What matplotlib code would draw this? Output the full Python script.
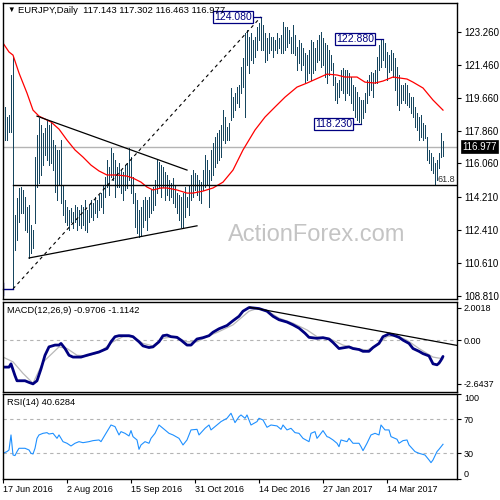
import numpy as np
import matplotlib
matplotlib.use('Agg')
import matplotlib.pyplot as plt

plt.rcParams['font.family'] = ['Liberation Sans', 'DejaVu Sans']

# ---------------- data ----------------
date_labels = ['17 Jun 2016', '2 Aug 2016', '15 Sep 2016', '31 Oct 2016',
               '14 Dec 2016', '27 Jan 2017', '14 Mar 2017']
date_label_idx = [0, 32, 64, 96, 128, 160, 192]

last_ohlc = [117.143, 117.302, 116.463, 116.977]

highs = [
    118.05, 119.15, 118.60, 118.71, 120.90, 121.88, 113.24, 114.17, 114.72, 114.77,
    114.61, 114.22, 113.68, 113.79, 112.69, 112.42, 116.41, 117.62, 118.55, 118.16,
    117.72, 118.00, 118.44, 118.16, 118.33, 117.34, 117.07, 116.80, 116.80, 117.34,
    114.88, 114.06, 113.68, 113.51, 113.62, 113.40, 113.79, 113.68, 113.51, 113.79,
    113.68, 114.06, 113.51, 113.79, 114.06, 113.90, 114.22, 114.06, 114.33, 114.44,
    114.88, 115.32, 116.25, 115.86, 116.90, 116.63, 116.25, 115.86, 116.08, 115.70,
    115.59, 115.97, 116.08, 116.90, 116.41, 115.32, 114.44, 114.06, 113.51, 113.68,
    114.06, 114.22, 114.06, 114.22, 114.61, 114.77, 115.15, 116.25, 116.14, 115.97,
    115.86, 115.59, 115.43, 115.15, 114.99, 115.26, 114.88, 114.44, 114.33, 114.22,
    114.44, 114.77, 114.22, 114.88, 115.43, 115.70, 115.54, 115.43, 115.15, 115.04,
    115.70, 116.52, 116.25, 115.70, 116.80, 117.18, 117.51, 117.72, 117.89, 118.16,
    118.98, 118.60, 118.05, 118.27, 120.19, 119.69, 119.91, 120.24, 120.35, 121.34,
    121.83, 123.19, 123.36, 122.98, 123.19, 122.81, 122.98, 123.52, 123.74, 124.08,
    123.63, 123.19, 122.92, 123.19, 122.98, 122.98, 122.81, 123.19, 122.92, 123.09,
    123.80, 123.52, 123.52, 123.36, 122.98, 123.63, 123.09, 122.43, 122.81, 122.65,
    122.37, 122.10, 121.99, 122.27, 122.81, 122.70, 122.37, 122.81, 123.09, 123.25,
    122.92, 122.65, 122.54, 122.27, 121.99, 121.55, 120.79, 120.46, 120.62, 121.17,
    121.28, 121.17, 121.17, 121.01, 120.79, 120.35, 120.24, 119.97, 119.69, 119.53,
    119.53, 119.91, 120.62, 120.90, 121.06, 121.01, 121.17, 121.88, 122.54, 122.81,
    122.88, 122.65, 122.16, 121.99, 122.27, 122.10, 121.83, 121.34, 120.90, 120.35,
    120.35, 120.46, 120.35, 119.91, 119.69, 119.69, 119.15, 118.82, 118.60, 118.71,
    118.27, 118.16, 117.51, 116.80, 116.63, 116.41, 116.08, 116.25, 116.63, 117.72,
    117.302]

lows = [
    116.90, 117.34, 117.34, 117.78, 117.78, 109.20, 111.33, 111.87, 112.86, 113.35,
    113.35, 112.42, 112.31, 110.89, 111.16, 111.43, 112.80, 114.77, 114.99, 115.43,
    115.97, 116.52, 116.25, 115.97, 116.08, 115.70, 114.50, 114.06, 114.88, 113.90,
    113.24, 112.86, 112.69, 112.42, 112.86, 112.53, 112.86, 112.42, 112.69, 112.53,
    112.69, 112.42, 112.31, 112.86, 113.13, 112.97, 113.35, 113.13, 113.51, 113.68,
    113.35, 114.22, 114.77, 114.33, 115.32, 115.15, 114.22, 114.77, 114.77, 114.44,
    114.06, 114.61, 114.72, 115.15, 114.44, 113.90, 112.58, 112.25, 112.04, 112.09,
    112.58, 112.97, 112.42, 113.13, 113.35, 113.51, 113.79, 114.44, 114.77, 114.22,
    114.77, 114.06, 114.33, 114.06, 114.22, 113.90, 113.68, 113.35, 112.97, 112.58,
    112.53, 113.13, 113.68, 113.24, 114.06, 114.22, 114.61, 114.33, 114.06, 113.90,
    114.61, 114.77, 114.88, 113.68, 115.15, 115.43, 115.86, 116.08, 116.25, 116.41,
    117.34, 117.18, 117.34, 117.34, 118.44, 118.60, 118.98, 119.37, 119.15, 119.91,
    120.24, 118.60, 121.44, 121.01, 121.72, 121.55, 121.88, 122.27, 122.81, 122.27,
    122.27, 121.61, 121.72, 122.10, 122.27, 121.88, 122.27, 122.10, 122.37, 122.10,
    122.10, 122.27, 122.43, 122.65, 122.10, 122.10, 121.99, 121.17, 121.55, 121.17,
    121.44, 120.51, 120.62, 121.01, 120.62, 121.01, 121.17, 121.61, 121.72, 121.34,
    121.44, 120.79, 120.46, 120.90, 121.17, 120.35, 119.53, 119.37, 119.69, 120.08,
    119.91, 119.53, 119.91, 119.80, 119.37, 118.98, 118.60, 118.44, 118.33, 118.23,
    118.55, 118.87, 119.37, 119.80, 120.08, 119.69, 120.46, 120.46, 121.17, 121.34,
    121.72, 121.34, 120.62, 121.06, 121.17, 120.79, 120.08, 119.26, 118.98, 119.37,
    119.53, 119.37, 119.26, 119.15, 118.82, 118.60, 118.05, 117.89, 117.34, 117.51,
    117.34, 117.45, 116.25, 116.08, 115.70, 115.54, 114.88, 115.15, 115.81, 116.41,
    116.463]

ma_idx = [0, 3, 5, 8, 12, 15, 18, 24, 28, 32, 36, 40, 44, 48, 52, 57, 62, 65, 69, 72,
          75, 79, 82, 87, 92, 95, 100, 105, 110, 115, 120, 126, 131, 136, 141, 147, 152,
          162, 167, 171, 177, 181, 186, 190, 195, 202, 205, 210, 215, 220]
ma_val = [122.65, 122.16, 121.99, 121.01, 119.91, 118.98, 118.65, 118.33, 117.94, 117.34,
          116.80, 116.41, 115.97, 115.65, 115.43, 115.43, 115.37, 115.26, 115.04, 114.77,
          114.61, 114.72, 114.72, 114.61, 114.44, 114.44, 114.55, 114.72, 115.04, 115.70,
          116.80, 117.89, 118.60, 119.15, 119.69, 120.24, 120.46, 120.95, 120.90, 120.79,
          120.79, 120.51, 120.46, 120.57, 120.79, 120.68, 120.51, 120.19, 119.53, 118.98]

upper_tl_idx = [17, 92]
upper_tl_val = [118.65, 115.70]
lower_tl_idx = [13, 97]
lower_tl_val = [110.89, 112.65]

main_ticks = [108.81, 110.61, 112.41, 114.21, 116.06, 117.86, 119.66, 121.46, 123.26]

macd_idx = [0, 3, 4, 6, 7, 11, 13, 15, 17, 19, 21, 23, 26, 28, 29, 31, 33, 35, 39, 42,
            45, 48, 52, 54, 56, 58, 63, 65, 68, 70, 73, 75, 78, 80, 82, 84, 87, 89, 92, 94,
            97, 100, 103, 105, 108, 112, 115, 118, 120, 123, 125, 128, 132, 135, 138, 142,
            145, 148, 151, 153, 157, 160, 163, 165, 168, 170, 173, 175, 178, 180, 183, 185,
            188, 190, 193, 195, 198, 200, 203, 205, 208, 210, 213, 215, 217, 218, 219, 220]
macd_val = [-1.62, -1.62, -1.42, -2.14, -2.45, -2.45, -2.55, -2.64, -2.45, -1.73,
            -0.90, -0.39, -0.28, -0.28, -0.18, -0.49, -0.90, -1.01, -1.01, -0.90,
            -0.80, -0.70, -0.49, -0.08, 0.23, 0.29, 0.29, 0.23, -0.08, -0.33,
            -0.43, -0.39, -0.08, 0.29, 0.33, 0.23, 0.19, 0.02, -0.28, -0.28,
            0.09, 0.17, 0.29, 0.50, 0.71, 0.91, 1.20, 1.47, 1.78, 2.00,
            1.98, 1.94, 1.78, 1.47, 1.26, 1.12, 0.95, 0.75, 0.44, 0.19,
            0.13, 0.17, 0.09, -0.12, -0.49, -0.45, -0.39, -0.49, -0.55, -0.66,
            -0.66, -0.43, -0.18, 0.23, 0.40, 0.33, 0.19, 0.02, -0.18, -0.49,
            -0.66, -0.80, -0.94, -1.42, -1.48, -1.38, -1.20, -0.9706]

sig_idx = [0, 5, 10, 15, 20, 28, 32, 37, 42, 48, 55, 60, 65, 70, 75, 80, 85, 92, 97, 102,
           108, 115, 123, 127, 132, 138, 145, 152, 157, 163, 170, 177, 182, 187, 192, 197,
           202, 208, 215, 220]
sig_val = [-1.01, -1.30, -2.00, -2.60, -1.32, -0.39, -0.49, -0.90, -0.94, -0.74,
           -0.08, 0.23, 0.23, -0.18, -0.33, 0.13, 0.23, -0.08, -0.08, 0.23,
           0.54, 0.95, 1.78, 1.94, 1.82, 1.36, 1.05, 0.64, 0.23, 0.13,
           -0.28, -0.49, -0.59, -0.28, 0.23, 0.29, 0.02, -0.49, -1.01, -1.1142]

macd_tl_idx = [123.5, 227.0]
macd_tl_val = [2.02, -0.30]
macd_ticks = [-2.6437, 0.0, 2.0018]
macd_tick_labels = ['-2.6437', '0.00', '2.0018']

rsi_idx = [0, 2, 3, 4, 5, 6, 7, 8, 11, 13, 14, 15, 16, 17, 18, 20, 22, 23, 25, 27,
           28, 30, 32, 34, 36, 38, 40, 43, 45, 48, 49, 51, 53, 54, 56, 58, 59, 61, 63, 64,
           65, 67, 68, 69, 71, 73, 74, 76, 78, 80, 83, 85, 88, 90, 92, 94, 97, 98, 101, 103,
           104, 106, 108, 109, 112, 114, 116, 118, 119, 121, 122, 124, 127, 128, 130, 132,
           134, 137, 139, 140, 142, 144, 146, 148, 150, 153, 154, 156, 157, 158, 160, 162,
           163, 165, 167, 168, 169, 172, 173, 175, 178, 179, 180, 182, 184, 186, 188, 189,
           191, 193, 194, 197, 198, 200, 202, 203, 206, 208, 211, 213, 214, 215, 217, 218, 220]
rsi_val = [30.0, 32.0, 33.9, 51.6, 28.0, 27.3, 32.0, 35.9, 35.9, 33.9,
           30.0, 29.2, 35.9, 47.6, 51.6, 53.5, 54.3, 52.7, 53.5, 47.6,
           51.6, 43.7, 41.8, 38.6, 41.8, 43.7, 42.5, 43.7, 44.9, 45.7,
           43.7, 51.6, 59.4, 63.3, 61.4, 51.6, 55.5, 53.5, 50.4, 56.7,
           49.6, 45.7, 34.7, 39.8, 43.7, 41.8, 47.6, 53.5, 63.3, 59.4,
           53.5, 51.6, 47.6, 39.8, 45.7, 57.5, 58.2, 51.6, 59.4, 63.3,
           57.5, 61.4, 65.3, 67.3, 71.2, 77.1, 66.1, 73.1, 75.1, 71.2,
           75.1, 63.3, 67.3, 71.2, 69.2, 60.6, 63.3, 62.2, 58.2, 63.3,
           57.5, 59.4, 54.3, 53.5, 47.6, 43.7, 53.5, 55.5, 47.6, 50.4,
           56.7, 49.6, 48.8, 45.7, 41.8, 37.8, 45.7, 43.7, 47.6, 41.8,
           41.8, 37.8, 33.1, 41.8, 51.6, 53.5, 51.6, 63.3, 57.5, 57.5,
           49.6, 46.5, 41.8, 44.9, 45.7, 39.8, 32.0, 30.0, 28.0, 22.2,
           19.0, 22.2, 32.0, 34.7, 40.6284]
rsi_ticks = [0, 30, 70, 100]

label_low_idx, label_low_val = 179, 118.23
label_high2_idx, label_high2_val = 190, 122.88

# ---------------- styling ----------------
BAR = '#17465f'
NAVY = '#000080'
XLIM = (-0.25, 227.0)

fig = plt.figure(figsize=(5, 5), dpi=100, facecolor='white')
ax1 = fig.add_axes([0.005, 0.402, 0.909, 0.592])
ax2 = fig.add_axes([0.005, 0.216, 0.909, 0.181])
ax3 = fig.add_axes([0.005, 0.0424, 0.909, 0.170])

for ax in (ax1, ax2, ax3):
    ax.set_xlim(*XLIM)
    for sp in ax.spines.values():
        sp.set_color('black')
        sp.set_linewidth(1.0)
    ax.yaxis.tick_right()
    ax.tick_params(axis='y', direction='out', length=3, width=0.8, pad=2, colors='black')

# ---------------- main panel ----------------
idx = np.arange(len(highs))
H = np.array(highs)
L = np.array(lows)
ax1.set_ylim(108.646, 124.84)

ax1.vlines(idx, L, H, color=BAR, lw=0.6, antialiased=False)
ax1.plot(ma_idx, ma_val, color='#ff0000', lw=0.9)

# current price line
ax1.axhline(last_ohlc[3], color='#b4b4b4', lw=1.0, zorder=0)

# swing low / high and fib line
i_lo = int(np.argmin(L))
i_hi = int(np.argmax(H))
lo, hi = L[i_lo], H[i_hi]
ax1.plot([i_lo, i_hi], [lo, hi], color='black', lw=0.8, dashes=(3, 3))
fib = hi - 0.618 * (hi - lo)
ax1.plot([i_lo, XLIM[1]], [fib, fib], color='black', lw=1.0)
ax1.text(217.5, fib + 0.08, '61.8', fontsize=6.5, color='#303030', ha='left', va='bottom')

# triangle trendlines
ax1.plot(upper_tl_idx, upper_tl_val, color='black', lw=0.9)
ax1.plot(lower_tl_idx, lower_tl_val, color='black', lw=0.9)

# low marker at left
ax1.plot([XLIM[0] + 0.1, i_lo], [lo, lo], color=NAVY, lw=1.0, clip_on=False)
ax1.plot([XLIM[0] + 0.1, XLIM[0] + 0.1], [lo - 0.33, lo + 0.33], color=NAVY, lw=1.0)

# price labels
def price_box(ix, val, gap):
    ax1.plot([ix - gap, ix], [val, val], color=NAVY, lw=0.9)
    ax1.text(ix - gap, val, f'{val:.3f}', fontsize=7.5, color=NAVY, ha='right', va='center',
             bbox=dict(boxstyle='square,pad=0.12', fc='white', ec=NAVY, lw=0.9))

price_box(i_hi, hi, 4.5)
price_box(label_high2_idx, label_high2_val, 4.5)
price_box(label_low_idx, label_low_val, 4.5)

# title
ax1.text(0.0099, 0.975, '\u25bc', transform=ax1.transAxes, fontsize=5.5, ha='left', va='center')
ax1.text(0.0341, 0.975, 'EURJPY,Daily  ' + ' '.join(f'{v:.3f}' for v in last_ohlc),
         transform=ax1.transAxes, fontsize=6.8, ha='left', va='center')

# watermark
ax1.text(0.692, 0.216, 'ActionForex.com', transform=ax1.transAxes, fontsize=17,
         color='#c4c4c4', ha='center', va='center', zorder=0)

ax1.set_xticks([])
ax1.set_yticks(main_ticks)
ax1.set_yticklabels([f'{v:.3f}' for v in main_ticks], fontsize=7)

# current price tag
ax1.annotate(f'{last_ohlc[3]:.3f}', xy=(1.0, last_ohlc[3]),
             xycoords=('axes fraction', 'data'), xytext=(4, 0), textcoords='offset points',
             fontsize=7, color='white', ha='left', va='center', annotation_clip=False,
             bbox=dict(boxstyle='square,pad=0.15', fc='black', ec='black', lw=0.5))

# ---------------- MACD panel ----------------
ax2.set_ylim(-3.133, 2.369)
ax2.axhline(0, color='#b4b4b4', lw=0.8, dashes=(3, 3))
ax2.plot(sig_idx, sig_val, color='#b8b8b8', lw=0.9)
ax2.plot(macd_idx, macd_val, color=NAVY, lw=2.0, solid_capstyle='round')
ax2.plot(macd_tl_idx, macd_tl_val, color='black', lw=0.9, clip_on=True)
ax2.set_xticks([])
ax2.set_yticks(macd_ticks)
ax2.set_yticklabels(macd_tick_labels, fontsize=6.5)
ax2.text(0.0099, 1 - 4 / 90, f'MACD(12,26,9) {macd_val[-1]:.4f} {sig_val[-1]:.4f}',
         transform=ax2.transAxes, fontsize=6.7, ha='left', va='top')

# ---------------- RSI panel ----------------
ax3.set_ylim(0, 100)
for lvl in (30, 70):
    ax3.axhline(lvl, color='#b4b4b4', lw=0.8, dashes=(3, 3))
ax3.plot(rsi_idx, rsi_val, color='#1e90ff', lw=0.8)
ax3.set_yticks(rsi_ticks)
ax3.set_yticklabels([str(t) for t in rsi_ticks], fontsize=6.5)
tl = ax3.get_yticklabels()
tl[0].set_va('bottom')
tl[-1].set_va('top')
ax3.text(0.0099, 1 - 4 / 85, f'RSI(14) {rsi_val[-1]:.4f}', transform=ax3.transAxes,
         fontsize=6.7, ha='left', va='top')

ax3.set_xticks(date_label_idx)
ax3.set_xticklabels(date_labels, fontsize=6.5, ha='left')
ax3.tick_params(axis='x', direction='out', length=3, width=0.8, pad=1.5)

fig.savefig('out.png', dpi=100, facecolor='white')
